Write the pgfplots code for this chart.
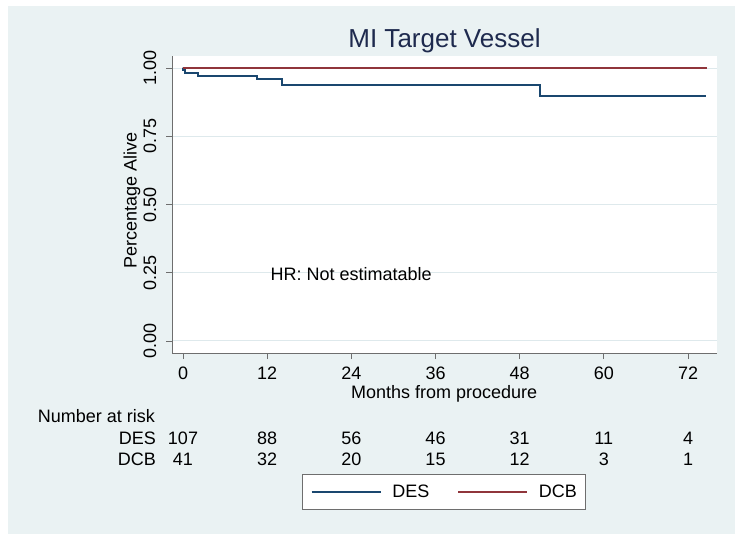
\documentclass[border=0pt]{standalone}
\usepackage{pgfplots}
\pgfplotsset{compat=1.18}
\usepackage{fontspec}
\setmainfont{Liberation Sans}
\definecolor{bgc}{RGB}{234,242,243}
\definecolor{gridc}{RGB}{222,233,236}
\definecolor{axc}{RGB}{110,110,110}
\definecolor{desc}{RGB}{26,71,111}
\definecolor{dcbc}{RGB}{144,53,59}
\definecolor{titlec}{RGB}{30,42,78}
\newcommand{\fs}{\fontsize{18bp}{21.6bp}\selectfont}
\begin{document}
\begin{tikzpicture}
\fill[white] (0,0) rectangle (744bp,-542bp);
\fill[bgc] (8bp,-6bp) rectangle (735bp,-534bp);
\begin{axis}[
  at={(172bp,-353bp)}, anchor=south west,
  scale only axis, width=545bp, height=297bp,
  xmin=-1.57, xmax=76.13, ymin=-0.044, ymax=1.044,
  axis background/.style={fill=white},
  axis lines*=left,
  axis line style={axc, line width=0.9bp, -},
  every tick/.style={axc, line width=0.9bp},
  tick align=outside, major tick length=6bp,
  xtick={0,12,24,36,48,60,72},
  xticklabels={0,12,24,36,48,60,72},
  ytick={0,0.25,0.5,0.75,1},
  yticklabels={0.00,0.25,0.50,0.75,1.00},
  /pgf/number format/assume math mode=true,
  ticklabel style={font=\fs, inner sep=0pt},
  xticklabel style={anchor=north},
  yticklabel style={rotate=90, anchor=south},
  xticklabel shift=8bp, yticklabel shift=9.5bp,
  ymajorgrids, major grid style={gridc, line width=1bp},
  clip=false,
  legend columns=2,
  legend style={at={(rel axis cs:0.4987,-0.4668)}, anchor=center,
    draw=axc, line width=0.8bp, fill=white, font=\fs,
    inner xsep=8.4bp, inner ysep=11bp,
    nodes={inner sep=0pt, text height=12.7bp, text depth=0bp},
    /tikz/every odd column/.append style={column sep=11bp},
    /tikz/every even column/.append style={column sep=27.7bp}},
]
\addplot[const plot, color=desc, line width=2bp,
  legend image code/.code={\draw[desc, draw=desc, line width=1.8bp] (0bp,0bp) -- (69bp,0bp);}] coordinates {
 (0,1) (0.05,0.991) (0.3,0.981) (2.1,0.972) (10.5,0.961) (14.1,0.937) (50.9,0.899) (74.6,0.899)};
\addlegendentry{DES}
\addplot[const plot, color=dcbc, line width=2bp,
  legend image code/.code={\draw[dcbc, draw=dcbc, line width=1.8bp] (0bp,0bp) -- (69bp,0bp);}] coordinates {(0,1) (74.7,1)};
\addlegendentry{DCB}
\node[anchor=base west, inner sep=0pt, font=\fs] at (axis cs:12.45,0.2234) {HR: Not estimatable};
\end{axis}
% titles and labels
\node[anchor=base, inner sep=0pt, text=titlec, font=\fontsize{26bp}{31bp}\selectfont] at (444.5bp,-47.3bp) {MI Target Vessel};
\node[anchor=base, inner sep=0pt, rotate=90, font=\fs] at (136.7bp,-200.5bp) {Percentage Alive};
\node[anchor=base, inner sep=0pt, font=\fs] at (444.2bp,-398.3bp) {Months from procedure};
% number at risk table
\node[anchor=base west, inner sep=0pt, font=\fs] at (37.7bp,-422.7bp) {Number at risk};
\node[anchor=base east, inner sep=0pt, font=\fs] at (156bp,-444.3bp) {DES};
\node[anchor=base east, inner sep=0pt, font=\fs] at (156bp,-465bp) {DCB};
\foreach \xx/\a/\b in {183/107/41, 267.2/88/32, 351.3/56/20, 435.5/46/15, 519.7/31/12, 603.8/11/3, 688/4/1}{
  \node[anchor=base, inner sep=0pt, font=\fs] at (\xx bp,-444.3bp) {\a};
  \node[anchor=base, inner sep=0pt, font=\fs] at (\xx bp,-465bp) {\b};
}
\end{tikzpicture}
\end{document}
